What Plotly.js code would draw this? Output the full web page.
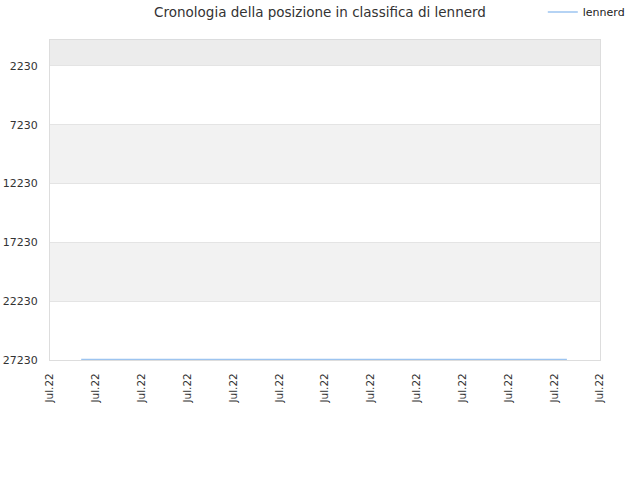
<!DOCTYPE html>
<html>
<head>
<meta charset="utf-8">
<script src="https://cdn.plot.ly/plotly-3.0.1.min.js"></script>
<style>html,body{margin:0;padding:0;background:#fff;}#chart{width:640px;height:480px;}</style>
</head>
<body>
<div id="chart"></div>
<script>
var seriesName = "lennerd";
var dates = ["2022-07-01 16:20", "2022-07-04 00:00", "2022-07-07 00:00", "2022-07-10 00:00", "2022-07-12 06:40"];
var ranks = [27180, 27180, 27180, 27180, 27180];
var yTicks = [2230, 7230, 12230, 17230, 22230, 27230];
var xTicks = ["2022-07-01", "2022-07-02", "2022-07-03", "2022-07-04", "2022-07-05", "2022-07-06", "2022-07-07",
              "2022-07-08", "2022-07-09", "2022-07-10", "2022-07-11", "2022-07-12", "2022-07-13"];
var yTop = 20;

var shapes = [];
shapes.push({type:"rect", xref:"paper", yref:"y", x0:0, x1:1, y0:yTop, y1:yTicks[0], fillcolor:"#ececec", line:{width:0}, layer:"below"});
for (var i = 0; i < yTicks.length - 1; i++) {
  if (i % 2 === 1) {
    shapes.push({type:"rect", xref:"paper", yref:"y", x0:0, x1:1, y0:yTicks[i], y1:yTicks[i+1], fillcolor:"#f2f2f2", line:{width:0}, layer:"below"});
  }
}

Plotly.newPlot("chart", [{
  x: dates, y: ranks, name: seriesName, type: "scatter", mode: "lines",
  line: {color: "#9cc4f0", width: 1.5}, showlegend: true
}], {
  width: 640, height: 480,
  margin: {l: 50, r: 40, t: 40, b: 120, autoexpand: false},
  paper_bgcolor: "#fff", plot_bgcolor: "#fff",
  font: {family: "DejaVu Sans, sans-serif", size: 11, color: "#333"},
  title: {text: "Cronologia della posizione in classifica di lennerd", x: 0.5, xanchor: "center", y: 0.975, yanchor: "middle", font: {size: 13.5, color: "#333"}},
  showlegend: true,
  legend: {x: 0.896, xanchor: "left", yref: "container", y: 0.975, yanchor: "middle", orientation: "h", bgcolor: "rgba(0,0,0,0)", font: {size: 11, color: "#222"}},
  xaxis: {
    type: "date", range: [xTicks[0], xTicks[xTicks.length-1]],
    tickvals: xTicks, tickformat: "%b.%y", tickangle: -90,
    showgrid: false, zeroline: false, showline: true, linecolor: "#dddddd", mirror: true,
    ticks: "", ticklabelstandoff: 8, tickfont: {size: 10.5, color: "#333"}
  },
  yaxis: {
    range: [27230, yTop], tickvals: yTicks, ticktext: yTicks.map(String),
    showgrid: true, gridcolor: "#e4e4e4", zeroline: false, showline: true, linecolor: "#dddddd", mirror: true,
    ticks: "", ticklabelstandoff: 9, tickfont: {size: 11, color: "#333"}
  },
  shapes: shapes
}, {displayModeBar: false, staticPlot: true});
</script>
</body>
</html>
